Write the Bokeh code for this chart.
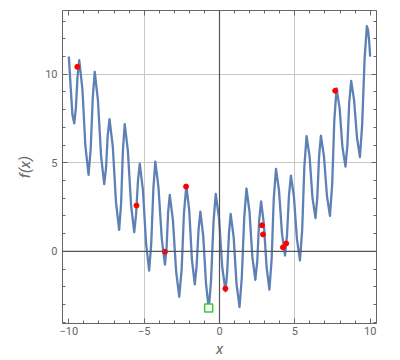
from bokeh.plotting import figure
from bokeh.models import Range1d, FixedTicker, LinearAxis, Span
from bokeh.embed import file_html
from bokeh.resources import INLINE

# curve f(x)
curve_x = [-10.00, -9.88, -9.76, -9.64, -9.53, -9.42, -9.31, -9.10, -8.90, -8.69,
           -8.55, -8.41, -8.28, -8.07, -7.86, -7.65, -7.53, -7.42, -7.30, -7.08,
           -6.87, -6.66, -6.53, -6.41, -6.29, -6.08, -5.87, -5.66, -5.54, -5.41,
           -5.29, -5.08, -4.87, -4.67, -4.53, -4.39, -4.26, -4.05, -3.83, -3.62,
           -3.51, -3.41, -3.30, -3.09, -2.88, -2.67, -2.51, -2.36, -2.20, -2.01,
           -1.83, -1.64, -1.52, -1.39, -1.27, -1.08, -0.89, -0.71, -0.56, -0.40,
           -0.25, -0.03, 0.18, 0.40, 0.51, 0.63, 0.74, 0.94, 1.13, 1.33,
           1.48, 1.64, 1.79, 1.99, 2.18, 2.38, 2.51, 2.63, 2.76, 2.94,
           3.13, 3.31, 3.46, 3.60, 3.75, 3.95, 4.15, 4.35, 4.48, 4.61,
           4.74, 4.94, 5.14, 5.34, 5.49, 5.63, 5.78, 5.98, 6.17, 6.37,
           6.49, 6.61, 6.73, 6.93, 7.13, 7.33, 7.48, 7.62, 7.77, 7.97,
           8.16, 8.36, 8.49, 8.61, 8.74, 8.93, 9.13, 9.32, 9.47, 9.63,
           9.78, 9.86, 9.93, 10.00]
curve_y = [11.00, 9.30, 7.70, 7.23, 8.12, 9.91, 10.80, 9.18, 5.94, 4.32,
           5.78, 8.69, 10.14, 8.56, 5.39, 3.80, 4.72, 6.55, 7.46, 5.90,
           2.78, 1.22, 2.71, 5.70, 7.19, 5.67, 2.62, 1.09, 2.06, 3.99,
           4.95, 3.44, 0.42, -1.09, 0.45, 3.53, 5.07, 3.62, 0.71, -0.75,
           0.24, 2.21, 3.19, 1.75, -1.12, -2.56, -0.99, 2.15, 3.72, 2.33,
           -0.47, -1.86, -0.83, 1.22, 2.25, 0.88, -1.88, -3.25, -1.63, 1.62,
           3.24, 1.87, -0.88, -2.25, -1.16, 1.03, 2.12, 0.81, -1.83, -3.14,
           -1.47, 1.88, 3.55, 2.26, -0.31, -1.60, -0.50, 1.72, 2.82, 1.58,
           -0.92, -2.16, -0.46, 2.96, 4.66, 3.44, 0.99, -0.23, 0.90, 3.15,
           4.28, 3.08, 0.69, -0.51, 1.25, 4.76, 6.51, 5.35, 3.04, 1.88,
           3.04, 5.37, 6.53, 5.40, 3.14, 2.01, 3.81, 7.40, 9.20, 8.10,
           5.89, 4.79, 6.00, 8.42, 9.63, 8.55, 6.40, 5.32, 7.17, 10.87,
           12.72, 12.50, 11.90, 11.00]

# red starting points
start_x = [-9.44, -5.51, -3.62, -2.22, 0.39, 2.82, 2.89, 4.21, 4.43, 7.68]
start_y = [10.42, 2.59, -0.02, 3.66, -2.10, 1.47, 0.96, 0.23, 0.45, 9.07]

# green minimum
min_x = [-0.72]
min_y = [-3.19]

x_ticks = [-10, -5, 0, 5, 10]
x_minor = [-10, -9, -8, -7, -6, -5, -4, -3, -2, -1, 0, 1, 2, 3, 4, 5, 6, 7, 8, 9, 10]
x_labels = {-10: "\u221210", -5: "\u22125", 0: "0", 5: "5", 10: "10"}
y_ticks = [0, 5, 10]
y_minor = [-4, -3, -2, -1, 0, 1, 2, 3, 4, 5, 6, 7, 8, 9, 10, 11, 12, 13]
x_grid = [-5, 5]
y_grid = [5, 10]

FONT = "Roboto"
AX = "#666666"

p = figure(width=400, height=360,
           x_range=Range1d(-10.42, 10.42), y_range=Range1d(-4.07, 13.6),
           output_backend="svg", toolbar_location=None,
           min_border_left=62, min_border_right=24, min_border_top=10, min_border_bottom=36)
p.outline_line_color = None

p.xgrid.ticker = FixedTicker(ticks=x_grid)
p.ygrid.ticker = FixedTicker(ticks=y_grid)
for g in (p.xgrid[0], p.ygrid[0]):
    g.grid_line_color = "#c8c8c8"
    g.grid_line_width = 1


def style(ax, ticks, minor, labels):
    ax.ticker = FixedTicker(ticks=ticks, minor_ticks=minor)
    ax.axis_line_color = AX
    ax.axis_line_width = 1
    ax.major_tick_line_color = AX
    ax.minor_tick_line_color = AX
    ax.major_tick_in = 5
    ax.major_tick_out = 0
    ax.minor_tick_in = 3
    ax.minor_tick_out = 0
    ax.major_label_text_font = FONT
    ax.major_label_text_font_size = "11px"
    ax.major_label_text_color = AX
    if not labels:
        ax.major_label_overrides = {t: "" for t in ticks}
        ax.major_label_standoff = 0
        ax.axis_label = None


bx = p.below[0]
style(bx, x_ticks, x_minor, True)
bx.major_label_overrides = x_labels
bx.major_label_standoff = 3
bx.axis_label = "x"
bx.axis_label_text_font = FONT
bx.axis_label_text_font_style = "italic"
bx.axis_label_text_font_size = "15px"
bx.axis_label_text_color = AX
bx.axis_label_standoff = 2

ly = p.left[0]
style(ly, y_ticks, y_minor, True)
ly.major_label_standoff = 5
ly.axis_label = "f(x)"
ly.axis_label_text_font = FONT
ly.axis_label_text_font_style = "italic"
ly.axis_label_text_font_size = "15px"
ly.axis_label_text_color = AX
ly.axis_label_standoff = 8

ta = LinearAxis()
style(ta, x_ticks, x_minor, False)
p.add_layout(ta, "above")
ra = LinearAxis()
style(ra, y_ticks, y_minor, False)
p.add_layout(ra, "right")

p.add_layout(Span(location=0, dimension="height", line_color="#555555", line_width=1.2))
p.add_layout(Span(location=0, dimension="width", line_color="#555555", line_width=1.2))

p.line(curve_x, curve_y, line_color="#5E81B5", line_width=2.3, line_join="round")
p.scatter(start_x, start_y, size=5, color="red")
p.scatter(min_x, min_y, marker="square", size=8, fill_color="white",
          line_color="#33CC33", line_width=1.5)

open("out.html", "w").write(file_html(p, INLINE))
